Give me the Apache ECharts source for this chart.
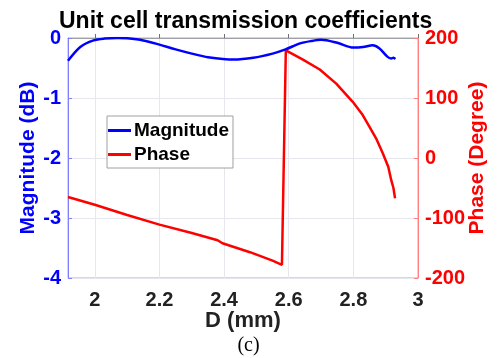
<!DOCTYPE html>
<html>
<head>
<meta charset="utf-8">
<script src="https://cdn.jsdelivr.net/npm/echarts@6/dist/echarts.min.js"></script>
<style>
html,body{margin:0;padding:0;background:#fff;}
#chart{width:497px;height:358px;}
</style>
</head>
<body>
<div id="chart"></div>
<script>
// Data
const magD = [1.917,1.955,1.996,2.03,2.07,2.1,2.15,2.2,2.25,2.3,2.35,2.43,2.49,2.55,2.59,2.635,2.67,2.7,2.75,2.8,2.83,2.86,2.88,2.905,2.917,2.924,2.93];
const magVal = [-0.38,-0.15,-0.04,-0.01,0.0,-0.005,-0.04,-0.11,-0.19,-0.26,-0.32,-0.36,-0.33,-0.26,-0.19,-0.09,-0.05,-0.03,-0.08,-0.16,-0.15,-0.12,-0.17,-0.31,-0.34,-0.33,-0.35];
const phD = [1.917,2.0,2.1,2.2,2.3,2.38,2.395,2.48,2.55,2.579,2.591,2.644,2.696,2.747,2.798,2.829,2.85,2.872,2.891,2.908,2.917,2.924,2.929];
const phVal = [-65,-78,-95,-111,-125,-137,-142,-157,-171,-178,179.5,164,147.5,124,93.6,71.5,52,31,8,-14.5,-36.6,-50,-67];
const xTicks = [2,2.2,2.4,2.6,2.8,3];
const magTicks = [-4,-3,-2,-1,0];
const phTicks = [-200,-100,0,100,200];

const FF = 'Liberation Sans, Arial, sans-serif';
const chart = echarts.init(document.getElementById('chart'));
const bold = {fontFamily:FF, fontWeight:'bold'};
chart.setOption({
  animation:false,
  title:{text:'Unit cell transmission coefficients', left:54, top:5,
    textStyle:Object.assign({fontSize:23,color:'#000'},bold)},
  grid:{left:68, right:79, top:38, bottom:80, show:true, borderColor:'#b0b0b8', borderWidth:1, backgroundColor:'transparent',
    containLabel:false, outerBoundsMode:'none'},
  legend:{orient:'vertical', left:107, top:116, backgroundColor:'#fff', borderColor:'#a0a0a0', borderWidth:1,
    padding:[5,4,4,1], itemGap:5, itemWidth:23, itemHeight:3, icon:'rect',
    textStyle:Object.assign({fontSize:19,color:'#000', padding:[0,0,0,-2]},bold),
    data:['Magnitude','Phase']},
  xAxis:{type:'value', min:1.917, max:3, name:'D (mm)', nameLocation:'middle', nameGap:32, nameMoveOverlap:false,
    nameTextStyle:Object.assign({fontSize:22,color:'#222'},bold),
    axisLine:{lineStyle:{color:'#a0a0a8'}},
    axisTick:{inside:true, length:4, customValues:xTicks, lineStyle:{color:'#707070'}},
    axisLabel:{customValues:xTicks, margin:12, color:'#222', fontSize:20, fontWeight:'bold', fontFamily:FF,
      formatter:v=>String(+v.toFixed(1))},
    splitLine:{show:true, customValues:xTicks, lineStyle:{color:'#e6e6ee'}}},
  yAxis:[
    {type:'value', min:-4, max:0, interval:1, position:'left', name:'Magnitude (dB)', nameLocation:'middle', nameGap:29, nameRotate:90, nameMoveOverlap:false,
     nameTextStyle:Object.assign({fontSize:21,color:'#0000ff'},bold),
     axisLine:{show:true, lineStyle:{color:'#8080ff'}},
     axisTick:{show:true, inside:true, length:4, lineStyle:{color:'#8080ff'}},
     axisLabel:{margin:7, color:'#0000ff', fontSize:20, fontWeight:'bold', fontFamily:FF},
     splitLine:{show:true, lineStyle:{color:'#e6e6ee'}}},
    {type:'value', min:-200, max:200, interval:100, position:'right', name:'Phase (Degree)', nameLocation:'middle', nameGap:49, nameRotate:90, nameMoveOverlap:false,
     nameTextStyle:Object.assign({fontSize:21,color:'#ff0000'},bold),
     axisLine:{show:true, lineStyle:{color:'#ff8080'}},
     axisTick:{show:true, inside:true, length:4, lineStyle:{color:'#ff8080'}},
     axisLabel:{margin:7, color:'#ff0000', fontSize:20, fontWeight:'bold', fontFamily:FF},
     splitLine:{show:false}}
  ],
  series:[
    {name:'Magnitude', type:'line', yAxisIndex:0, data:magD.map((d,i)=>[d,magVal[i]]), showSymbol:false, symbol:'none', smooth:0.3,
     lineStyle:{color:'#0000ff', width:2.5}, itemStyle:{color:'#0000ff'}, z:3},
    {name:'Phase', type:'line', yAxisIndex:1, data:phD.map((d,i)=>[d,phVal[i]]), showSymbol:false, symbol:'none',
     lineStyle:{color:'#ff0000', width:2.5}, itemStyle:{color:'#ff0000'}, z:2}
  ],
  graphic:[{type:'text', left:'center', top:336, style:{text:'(c)', fontSize:20, fontFamily:'Liberation Serif, Times New Roman, serif', fill:'#000'}}]
});
</script>
</body>
</html>
